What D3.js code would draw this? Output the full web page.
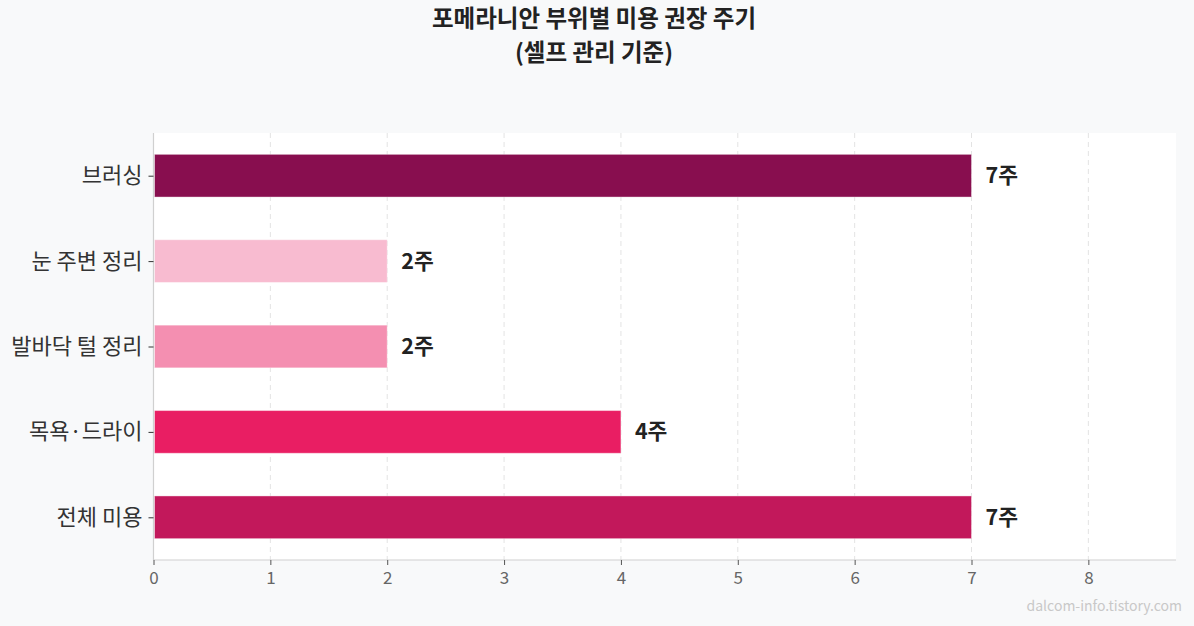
<!DOCTYPE html>
<html><head><meta charset="utf-8">
<script src="https://cdn.jsdelivr.net/npm/d3@7"></script>
<style>
html,body{margin:0;padding:0;background:#f8f9fa;}
svg{display:block;font-family:"Noto Sans CJK KR","Noto Sans",sans-serif;}
</style></head>
<body><svg id="c" width="1194" height="626"></svg>
<script>
const categories = ["브러싱","눈 주변 정리","발바닥 털 정리","목욕·드라이","전체 미용"];
const values = [7,2,2,4,7];
const valueLabels = ["7주","2주","2주","4주","7주"];
const colors = ["#880E4F","#F8BBD0","#F48FB1","#E91E63","#C2185B"];
const xTicks = [0,1,2,3,4,5,6,7,8];
const titleLines = ["포메라니안 부위별 미용 권장 주기","(셀프 관리 기준)"];

const svg = d3.select("#c");
const W = 1194, H = 626;
const m = {left:153.5, right:1176, top:133, bottom:560};
svg.append("rect").attr("width",W).attr("height",H).attr("fill","#f8f9fa");
svg.append("rect").attr("x",m.left).attr("y",m.top).attr("width",m.right-m.left).attr("height",m.bottom-m.top).attr("fill","#ffffff");

const x = d3.scaleLinear().domain([0,8.75]).range([m.left,m.right]);
const y = d3.scaleLinear().domain([-0.5,4.5]).range([m.top,m.bottom]);

// grid
svg.append("g").selectAll("line").data(xTicks.filter(d=>d>0)).join("line")
  .attr("x1",d=>x(d)).attr("x2",d=>x(d)).attr("y1",m.top).attr("y2",m.bottom)
  .attr("stroke","#e3e3e3").attr("stroke-width",1).attr("stroke-dasharray","5,4");

// bars
const bh = y(0.25)-y(0);
svg.append("g").selectAll("rect").data(values).join("rect")
  .attr("x",x(0)+1).attr("y",(d,i)=>y(i)-bh).attr("width",d=>x(d)-x(0)-1).attr("height",bh*2)
  .attr("fill",(d,i)=>colors[i]).attr("stroke","rgba(255,255,255,0.4)").attr("stroke-width",1);

// value labels
svg.append("g").selectAll("text").data(values).join("text")
  .attr("x",d=>x(d)+14).attr("y",(d,i)=>y(i)).attr("dy","0.35em")
  .attr("font-size",21.5).attr("font-weight","bold").attr("fill","#222")
  .text((d,i)=>valueLabels[i]);

// spines
svg.append("line").attr("x1",m.left).attr("x2",m.left).attr("y1",m.top).attr("y2",m.bottom).attr("stroke","#d0d0d0").attr("stroke-width",1.2);
svg.append("line").attr("x1",m.left).attr("x2",m.right).attr("y1",m.bottom).attr("y2",m.bottom).attr("stroke","#d0d0d0").attr("stroke-width",1.2);

// x axis
const xa = svg.append("g").attr("transform",`translate(0,${m.bottom})`)
  .call(d3.axisBottom(x).tickValues(xTicks).tickSize(5).tickFormat(d3.format("d")));
xa.select(".domain").remove();
xa.selectAll("line").attr("stroke","#555");
xa.selectAll("text").attr("font-size",17).attr("fill","#666").attr("dy","0.95em").attr("font-family","'Noto Sans CJK KR',sans-serif");

// y axis
const ya = svg.append("g").attr("transform",`translate(${m.left},0)`)
  .call(d3.axisLeft(y).tickValues(d3.range(categories.length)).tickSize(5).tickPadding(6).tickFormat(i=>categories[i]));
ya.select(".domain").remove();
ya.selectAll("line").attr("stroke","#333");
ya.selectAll("text").attr("font-size",22).attr("fill","#333").attr("font-family","'Noto Sans CJK KR',sans-serif");

// title
svg.append("g").selectAll("text").data(titleLines).join("text")
  .attr("x",594).attr("y",(d,i)=>27+i*34).attr("text-anchor","middle")
  .attr("font-size",23.5).attr("font-weight","bold").attr("fill","#222").text(d=>d);

// watermark
svg.append("text").attr("x",1182).attr("y",611).attr("text-anchor","end")
  .attr("font-size",14).attr("fill","#c8c8c8").text("dalcom-info.tistory.com");
</script></body></html>
